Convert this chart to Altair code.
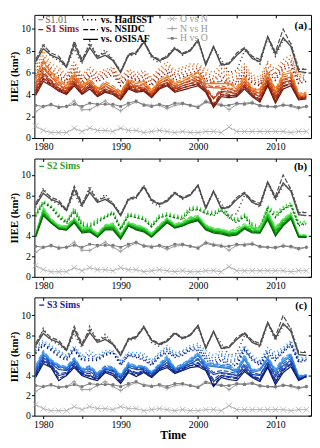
import altair as alt
import pandas as pd

FONT = "Liberation Serif"
years = list(range(1979, 2015))

# S1.01 reference run vs the three observation products
s101_osisaf = [7.0,8.2,7.6,7.3,6.5,8.6,7.0,8.3,7.3,7.6,7.1,6.0,7.6,7.8,8.8,7.5,7.1,7.4,8.2,7.7,8.0,9.0,6.7,8.4,6.7,6.8,7.6,8.2,7.3,7.0,9.3,7.7,9.2,8.4,6.1,6.0]
s101_nsidc  = [7.2,8.5,7.8,7.5,6.6,8.9,7.2,8.6,7.5,7.8,7.2,6.1,7.7,7.9,8.9,7.6,7.2,7.5,8.3,7.8,8.1,9.0,6.8,8.4,6.8,6.9,7.8,8.3,7.5,7.2,9.3,7.9,10.0,8.6,6.3,6.3]
s101_hadisst = [6.8,8.7,7.5,7.1,6.5,8.2,6.8,8.9,7.4,8.1,7.2,6.2,7.5,7.7,9.0,7.3,6.9,7.6,8.3,7.6,8.1,8.8,6.8,8.3,7.2,6.0,6.2,8.0,7.5,6.8,9.2,7.5,9.0,8.7,6.3,6.4]

# observation-vs-observation IIEE
obs_o_vs_n = [1.1,0.7,0.5,0.5,0.5,0.9,0.6,0.9,0.7,0.7,0.6,0.9,0.7,0.7,0.5,0.6,0.7,0.6,0.5,0.6,0.5,0.5,0.6,0.6,0.5,1.0,0.6,0.6,0.6,0.6,0.6,0.6,0.6,0.5,0.6,0.6]
obs_n_vs_h = [2.4,2.9,3.0,2.9,2.9,3.4,2.6,2.6,3.0,3.4,2.9,2.5,3.0,3.3,3.1,3.0,3.0,2.7,3.0,3.1,3.0,2.9,3.4,3.2,3.1,2.6,3.1,3.2,3.3,2.9,2.9,2.8,3.1,2.9,2.7,2.9]
obs_h_vs_o = [3.0,2.9,3.1,2.8,2.9,3.1,2.9,3.2,3.1,3.1,3.1,2.9,3.2,3.4,3.0,2.9,3.1,2.9,3.2,3.2,3.0,2.8,3.3,3.1,3.0,3.0,3.2,3.1,3.2,3.0,2.9,2.9,3.0,3.0,2.8,2.9]

# S1 simulations
s1_osisaf = [
 [5.3,7.0,6.0,5.2,4.8,5.8,4.8,5.3,4.5,5.0,4.6,4.2,5.3,5.0,5.2,4.3,5.2,5.6,5.0,5.2,5.6,6.0,5.0,5.0,5.0,5.0,4.5,5.5,4.5,4.4,6.0,4.3,5.8,6.0,4.0,4.1],
 [4.8,6.4,5.6,4.9,4.5,5.5,4.6,5.1,4.3,4.8,4.4,4.0,5.1,4.7,4.9,4.1,5.0,5.4,4.7,5.0,5.3,5.6,4.7,4.6,4.6,4.5,4.3,5.2,4.3,4.1,5.6,4.0,5.4,5.6,3.8,3.9],
 [4.4,5.9,5.2,4.6,4.3,5.2,4.3,4.9,4.1,4.5,4.2,3.8,4.9,4.5,4.6,3.9,4.8,5.1,4.5,4.8,5.0,5.3,4.5,3.6,4.3,4.2,4.1,4.9,4.1,3.8,5.3,3.7,5.1,5.3,3.7,3.8],
 [4.1,5.5,5.0,4.4,4.1,5.0,4.1,4.7,3.9,4.3,4.1,3.6,4.7,4.3,4.4,3.8,4.6,4.9,4.3,4.6,4.8,5.0,4.3,3.0,4.0,3.9,3.9,4.7,3.9,3.5,5.0,3.4,4.8,5.0,3.6,3.7],
 [3.9,5.2,4.8,4.3,4.0,4.8,4.0,4.5,3.8,4.2,4.0,3.5,4.5,4.2,4.3,3.7,4.5,4.8,4.2,4.4,4.6,4.8,4.2,2.8,3.8,3.7,3.8,4.5,3.8,3.3,4.8,3.2,4.5,4.8,3.5,3.6],
]
s1_nsidc = [
 [5.5,7.2,6.1,5.4,4.9,6.0,4.9,5.5,4.6,5.2,4.8,4.3,5.4,5.1,5.3,4.4,5.4,5.8,5.1,5.4,5.8,6.1,5.2,5.1,5.2,5.1,4.7,5.7,4.6,4.5,6.1,4.5,6.0,6.2,4.1,4.2],
 [5.0,6.6,5.7,5.1,4.6,5.7,4.7,5.3,4.4,5.0,4.6,4.1,5.2,4.8,5.0,4.2,5.2,5.6,4.8,5.2,5.5,5.7,4.9,4.7,4.8,4.6,4.5,5.4,4.4,4.2,5.7,4.2,5.6,5.8,3.9,4.0],
 [4.6,6.1,5.3,4.8,4.4,5.4,4.4,5.1,4.2,4.7,4.4,3.9,5.0,4.6,4.7,4.0,5.0,5.3,4.6,5.0,5.2,5.4,4.7,3.7,4.5,4.3,4.3,5.1,4.2,3.9,5.4,3.9,5.3,5.5,3.8,3.9],
 [4.3,5.7,5.1,4.6,4.2,5.2,4.2,4.9,4.0,4.5,4.3,3.7,4.8,4.4,4.5,3.9,4.8,5.1,4.4,4.8,5.0,5.1,4.5,3.1,4.2,4.0,4.1,4.9,4.0,3.6,5.1,3.6,5.0,5.2,3.7,3.8],
 [4.1,5.4,4.9,4.5,4.1,5.0,4.1,4.7,3.9,4.4,4.2,3.6,4.6,4.3,4.4,3.8,4.7,5.0,4.3,4.6,4.8,4.9,4.4,2.9,4.0,3.8,4.0,4.7,3.9,3.4,4.9,3.4,4.7,5.0,3.6,3.7],
]
s1_hadisst = [
 [6.5,8.0,6.8,6.5,5.8,7.0,5.8,6.5,6.0,6.3,6.5,5.6,6.3,6.0,6.2,5.6,6.4,7.0,6.2,6.5,6.8,6.8,6.3,6.0,6.8,5.8,6.0,6.8,5.8,5.6,7.0,6.3,7.2,7.6,5.8,6.0],
 [6.2,7.6,6.5,6.2,5.6,6.8,5.6,6.3,5.8,6.1,6.4,5.4,6.1,5.8,6.0,5.4,6.2,6.7,6.0,6.3,6.6,6.6,6.0,5.7,6.4,5.5,5.7,6.5,5.6,5.3,6.8,6.0,6.9,7.3,5.6,5.8],
 [5.9,7.2,6.3,5.9,5.4,6.5,5.4,6.0,5.6,5.9,6.2,5.2,5.9,5.6,5.8,5.2,6.0,6.4,5.8,6.0,6.3,6.4,5.8,5.4,6.0,5.2,5.4,6.3,5.4,5.1,6.5,5.8,6.7,7.0,5.4,5.6],
 [5.7,6.9,6.0,5.7,5.2,6.3,5.2,5.8,5.4,5.7,6.0,5.0,5.7,5.4,5.6,5.0,5.8,6.2,5.6,5.8,6.0,6.2,5.5,5.2,5.7,5.0,5.2,6.0,5.2,4.9,6.2,5.5,6.5,6.8,5.2,5.4],
 [5.5,6.5,5.8,5.5,5.0,6.0,5.0,5.6,5.2,5.5,5.8,4.8,5.6,5.3,5.3,4.8,5.5,6.0,5.3,5.6,5.8,6.0,5.3,5.0,5.3,4.8,5.0,5.8,5.0,4.8,6.0,5.3,6.3,6.5,5.0,5.2],
]

# S2 simulations
s2_osisaf = [
 [4.1,6.7,5.6,5.0,4.9,5.7,4.8,4.8,4.2,5.0,5.2,4.1,5.3,5.0,4.8,4.2,5.0,5.7,5.1,5.3,5.8,5.9,5.0,4.7,4.6,4.4,4.6,5.0,4.9,4.6,6.3,4.8,5.6,6.2,4.1,4.0],
 [4.0,6.5,5.5,4.9,4.8,5.6,4.6,4.7,4.1,4.9,5.0,4.0,5.2,4.9,4.7,4.1,4.9,5.6,5.0,5.2,5.6,5.8,4.9,4.6,4.5,4.3,4.4,4.9,4.7,4.5,6.1,4.6,5.5,6.0,4.0,4.0],
 [4.0,6.3,5.4,4.8,4.7,5.5,4.5,4.6,4.0,4.8,4.9,3.9,5.1,4.8,4.6,4.0,4.8,5.5,4.9,5.1,5.5,5.7,4.8,4.5,4.4,4.2,4.3,4.8,4.5,4.4,5.9,4.4,5.3,5.9,4.0,3.9],
 [3.9,6.1,5.3,4.7,4.6,5.4,4.4,4.5,3.9,4.7,4.7,3.8,5.0,4.7,4.5,3.9,4.7,5.4,4.8,5.0,5.4,5.6,4.7,4.4,4.3,4.1,4.2,4.8,4.4,4.3,5.7,4.2,5.1,5.8,3.9,3.9],
 [3.9,6.0,5.3,4.7,4.6,5.3,4.3,4.4,3.9,4.6,4.6,3.7,5.0,4.6,4.4,3.9,4.6,5.3,4.8,5.0,5.3,5.5,4.6,4.3,4.2,4.0,4.1,4.7,4.3,4.3,5.6,4.0,5.0,5.7,3.9,3.9],
]
s2_nsidc = [
 [4.2,6.8,5.7,5.1,5.0,5.8,4.9,4.9,4.3,5.1,5.3,4.2,5.4,5.1,4.9,4.3,5.1,5.8,5.2,5.4,5.9,6.0,5.1,4.8,4.7,4.5,4.8,5.2,5.0,4.7,6.4,4.9,5.7,6.3,4.2,4.1],
 [4.1,6.6,5.6,5.0,4.9,5.7,4.7,4.8,4.2,5.0,5.1,4.1,5.3,5.0,4.8,4.2,5.0,5.7,5.1,5.3,5.7,5.9,5.0,4.7,4.6,4.4,4.6,5.0,4.8,4.6,6.2,4.7,5.6,6.1,4.1,4.0],
 [4.1,6.4,5.5,4.9,4.8,5.6,4.6,4.7,4.1,4.9,5.0,4.0,5.2,4.9,4.7,4.1,4.9,5.6,5.0,5.2,5.6,5.8,4.9,4.6,4.5,4.3,4.4,4.9,4.6,4.5,6.0,4.5,5.4,6.0,4.0,4.0],
 [4.0,6.2,5.4,4.8,4.7,5.5,4.5,4.6,4.0,4.8,4.8,3.9,5.1,4.8,4.6,4.0,4.8,5.5,4.9,5.1,5.5,5.7,4.8,4.5,4.4,4.2,4.3,4.9,4.5,4.4,5.8,4.3,5.2,5.9,4.0,3.9],
 [4.0,6.1,5.4,4.8,4.7,5.4,4.4,4.5,4.0,4.7,4.7,3.8,5.1,4.7,4.5,4.0,4.7,5.4,4.9,5.1,5.4,5.6,4.7,4.4,4.3,4.1,4.2,4.8,4.4,4.4,5.7,4.1,5.1,5.8,4.0,3.9],
]
s2_hadisst = [
 [6.3,7.5,7.0,6.2,5.5,6.8,5.4,5.2,5.7,6.0,6.5,4.9,6.3,6.1,5.9,5.2,6.1,6.3,6.1,6.0,6.9,6.9,6.5,6.4,6.8,6.1,5.7,6.2,5.3,5.0,7.0,6.3,6.9,7.3,5.4,5.5],
 [6.2,7.4,6.9,6.1,5.4,6.7,5.3,5.1,5.6,5.9,6.4,4.8,6.2,6.0,5.8,5.1,6.0,6.2,6.0,5.9,6.8,6.8,6.4,6.3,6.7,6.0,5.6,6.1,5.2,4.9,6.9,6.2,6.8,7.2,5.3,5.4],
 [6.1,7.3,6.9,6.0,5.3,6.6,5.2,5.0,5.5,5.9,6.3,4.7,6.1,5.9,5.7,5.0,5.9,6.1,5.9,5.8,6.7,6.7,6.3,6.2,6.6,5.9,5.5,6.0,5.1,4.8,6.8,6.0,6.7,7.1,5.2,5.3],
 [6.0,7.3,6.8,5.9,5.3,6.5,5.1,4.9,5.4,5.8,6.3,4.7,6.0,5.8,5.6,4.9,5.8,6.0,5.8,5.7,6.6,6.6,6.2,6.1,6.5,5.8,5.4,5.9,5.0,4.6,6.7,5.9,6.6,7.0,5.1,5.2],
 [5.9,7.2,6.8,5.8,5.2,6.4,5.0,4.8,5.3,5.8,6.2,4.6,6.0,5.8,5.6,4.9,5.8,6.0,5.8,5.6,6.5,6.6,6.2,6.0,6.5,5.8,5.3,5.9,4.8,4.5,6.6,5.8,6.6,7.0,5.0,5.2],
]

# S3 simulations
s3_osisaf = [
 [4.8,6.3,5.5,5.0,4.8,5.6,4.6,4.8,4.2,4.8,4.7,4.0,5.2,4.9,4.9,4.3,5.0,5.8,4.7,5.0,5.5,6.2,5.1,5.0,4.9,4.8,4.4,5.9,4.4,4.6,5.8,4.5,5.6,6.0,3.9,4.0],
 [4.6,6.1,5.4,4.9,4.7,5.5,4.5,4.7,4.1,4.7,4.6,3.9,5.0,4.8,4.8,4.2,4.9,5.6,4.6,4.9,5.4,6.0,5.0,4.9,4.8,4.7,4.3,5.6,4.3,4.5,5.6,4.3,5.4,5.9,3.8,4.0],
 [4.3,5.8,5.2,4.6,4.5,5.3,4.3,4.4,3.9,4.6,4.5,3.7,4.8,4.6,4.6,4.1,4.8,5.3,4.5,4.8,5.2,5.6,4.8,4.1,4.3,4.2,4.0,5.0,4.1,4.0,5.3,3.9,5.0,5.5,3.7,3.9],
 [4.0,5.5,5.0,4.0,4.2,5.0,4.1,4.0,3.7,4.4,4.2,3.4,4.5,4.2,4.4,3.9,4.6,5.0,4.3,4.6,5.0,5.2,4.6,3.4,4.0,3.9,3.8,4.6,3.9,3.6,5.0,3.4,4.6,5.2,3.6,3.9],
 [3.8,5.2,4.8,3.5,4.0,4.8,4.0,3.7,3.5,4.3,4.0,3.2,4.3,3.9,4.3,3.8,4.5,4.8,4.2,4.5,4.8,4.9,4.5,2.9,3.8,3.6,3.5,4.4,3.8,3.4,4.8,3.1,4.3,4.9,3.5,3.9],
]
s3_nsidc = [
 [5.0,6.5,5.6,5.1,4.9,5.8,4.7,5.0,4.3,5.0,4.9,4.1,5.3,5.0,5.0,4.4,5.2,6.0,4.8,5.2,5.7,6.3,5.3,5.2,5.1,5.0,4.6,6.1,4.6,4.7,5.9,4.7,5.8,6.2,4.0,4.1],
 [4.8,6.3,5.5,5.0,4.8,5.7,4.6,4.9,4.2,4.9,4.8,4.0,5.1,4.9,4.9,4.3,5.1,5.8,4.7,5.1,5.6,6.1,5.2,5.1,5.0,4.9,4.5,5.8,4.5,4.6,5.7,4.5,5.6,6.1,3.9,4.1],
 [4.5,6.0,5.3,4.8,4.6,5.5,4.4,4.6,4.0,4.8,4.7,3.8,4.9,4.7,4.7,4.2,5.0,5.5,4.6,5.0,5.4,5.7,5.0,4.3,4.5,4.4,4.2,5.2,4.3,4.1,5.4,4.1,5.2,5.7,3.8,4.0],
 [4.2,5.7,5.1,4.2,4.3,5.2,4.2,4.2,3.8,4.6,4.4,3.5,4.6,4.3,4.5,4.0,4.8,5.2,4.4,4.8,5.2,5.3,4.8,3.6,4.2,4.1,4.0,4.8,4.0,3.7,5.1,3.6,4.8,5.4,3.7,4.0],
 [4.0,5.4,4.9,3.7,4.1,5.0,4.1,3.9,3.6,4.5,4.2,3.3,4.4,4.0,4.4,3.9,4.7,5.0,4.3,4.7,5.0,5.0,4.7,3.0,4.0,3.8,3.7,4.6,3.9,3.5,4.9,3.3,4.5,5.1,3.6,4.0],
]
s3_hadisst = [
 [7.0,7.5,7.0,6.5,6.0,7.0,6.0,6.5,6.0,6.5,6.5,5.5,6.3,6.3,6.2,5.5,6.3,7.0,6.3,6.5,7.0,7.2,6.5,6.0,6.5,5.8,6.0,7.0,6.0,5.5,6.8,6.3,6.8,7.5,5.8,5.8],
 [6.8,7.3,6.8,6.4,5.9,6.8,5.8,6.2,5.8,6.3,6.4,5.4,6.2,6.1,6.0,5.4,6.2,6.8,6.1,6.4,6.8,7.0,6.2,5.7,6.2,5.5,5.7,6.8,5.8,5.3,6.6,6.0,6.6,7.3,5.6,5.7],
 [6.5,7.2,6.7,6.2,5.7,6.7,5.7,6.0,5.7,6.2,6.3,5.2,6.1,6.0,5.8,5.2,6.0,6.6,6.0,6.2,6.7,6.8,6.0,5.4,6.0,5.3,5.5,6.7,5.7,5.2,6.4,5.8,6.5,7.2,5.5,5.6],
 [6.3,7.1,6.6,6.0,5.6,6.6,5.6,5.7,5.6,6.1,6.3,5.1,6.0,5.9,5.6,5.1,5.9,6.4,5.9,6.1,6.6,6.6,5.8,5.2,5.7,5.1,5.2,6.6,5.6,5.1,6.2,5.6,6.4,7.1,5.4,5.6],
 [6.2,7.0,6.5,5.9,5.5,6.5,5.5,5.5,5.5,6.0,6.3,5.0,6.0,5.8,5.5,5.0,5.8,6.3,5.8,6.0,6.5,6.5,5.6,5.0,5.5,5.0,5.0,6.5,5.5,5.0,6.0,5.5,6.3,7.0,5.3,5.5],
]

s1_colors = ["#EE7A1E", "#D9561A", "#B83A12", "#952410", "#6E1408"]
s2_colors = ["#4CE84C", "#2CCB2C", "#16A816", "#078607", "#036203"]
s3_colors = ["#4AA0F0", "#2575DA", "#1848B8", "#10309A", "#081870"]

GRAY_S101 = "#4d4d4d"
OBS_COLORS = {"O vs N": "#b0b0b0", "N vs H": "#9a9a9a", "H vs O": "#7a7a7a"}

W = 283
ONE = alt.Data(values=[{"a": 1}])


def table(osi, nsi, had, colors):
    rows = []

    def add(sid, vals, col, style, grp):
        for yr, v in zip(years, vals):
            rows.append({"year": yr, "value": v, "sid": sid, "col": col, "style": style, "grp": grp})

    add("O vs N", obs_o_vs_n, OBS_COLORS["O vs N"], "solid", "obs")
    add("N vs H", obs_n_vs_h, OBS_COLORS["N vs H"], "solid", "obs")
    add("H vs O", obs_h_vs_o, OBS_COLORS["H vs O"], "solid", "obs")
    add("S1.01 had", s101_hadisst, GRAY_S101, "dotted", "ref")
    add("S1.01 nsi", s101_nsidc, GRAY_S101, "dashed", "ref")
    add("S1.01 osi", s101_osisaf, GRAY_S101, "solid", "ref")
    for i, c in enumerate(colors):
        add(f"m{i} had", had[i], c, "dotted", "sim")
        add(f"m{i} nsi", nsi[i], c, "dashed", "sim")
        add(f"m{i} osi", osi[i], c, "solid", "sim")
    return pd.DataFrame(rows)


DASH = {"solid": [1, 0], "dashed": [5, 2], "dotted": [1.2, 2.8]}


def txt(s, x, y, color="black", bold=False, size=10, align="left"):
    return alt.Chart(ONE).mark_text(
        text=s, color=color, fontWeight="bold" if bold else "normal",
        fontSize=size, font=FONT, align=align, baseline="middle"
    ).encode(x=alt.value(x), y=alt.value(y))


def seg(x1, x2, y, color, style="solid", width=1.2):
    return alt.Chart(ONE).mark_rule(color=color, strokeWidth=width, strokeDash=DASH[style]).encode(
        x=alt.value(x1), x2=alt.value(x2), y=alt.value(y))


def pt(x, y, shape, color, size, filled=False):
    return alt.Chart(ONE).mark_point(shape=shape, color=color, size=size, filled=filled,
                                     strokeWidth=0.9, opacity=1).encode(x=alt.value(x), y=alt.value(y))


XSHAPE = "M-1,-1L1,1M-1,1L1,-1"
PLUS = "M-1,0L1,0M0,-1L0,1"


def panel(df, height, ymax, label, extra, title=None):
    xscale = alt.Scale(domain=[1978.85, 2014.6], nice=False, zero=False)
    yscale = alt.Scale(domain=[0, ymax], nice=False, zero=True)
    xaxis = alt.Axis(orient="bottom", values=list(range(1980, 2015, 5)),
                     labelExpr="datum.value % 10 == 0 ? format(datum.value, 'd') : ''",
                     tickSize=3, labelPadding=1, domain=False, grid=False,
                     titleFontWeight="bold", titleFontSize=12, titlePadding=0)
    yaxis = alt.Axis(orient="left", values=[0, 2, 4, 6, 8, 10], tickSize=3, labelPadding=1,
                     domain=False, grid=False, title="IIEE (km²)", titleFontWeight="bold",
                     titleFontSize=11, titlePadding=1)
    base = alt.Chart(df)
    x = alt.X("year:Q", scale=xscale, axis=xaxis, title=title)
    y = alt.Y("value:Q", scale=yscale, axis=yaxis)

    layers = []
    # obs comparisons
    layers.append(base.transform_filter("datum.grp == 'obs'").mark_line(strokeWidth=1).encode(
        x=x, y=y, detail="sid:N", color=alt.Color("col:N", scale=None)))
    layers.append(base.transform_filter("datum.sid == 'O vs N'").mark_point(
        shape=XSHAPE, size=34, filled=False, strokeWidth=0.8, color=OBS_COLORS["O vs N"], opacity=1).encode(x=x, y=y))
    layers.append(base.transform_filter("datum.sid == 'N vs H'").mark_point(
        shape=PLUS, size=16, filled=False, strokeWidth=0.8, color=OBS_COLORS["N vs H"], opacity=1).encode(x=x, y=y))
    layers.append(base.transform_filter("datum.sid == 'H vs O'").mark_point(
        shape="square", size=8, filled=True, color=OBS_COLORS["H vs O"], opacity=1).encode(x=x, y=y))
    # simulations
    for style, sw in [("dotted", 1.5), ("dashed", 1.1), ("solid", 1.2)]:
        layers.append(base.transform_filter(f"datum.grp == 'sim' && datum.style == '{style}'").mark_line(
            strokeWidth=sw, strokeDash=DASH[style]).encode(
            x=x, y=y, detail="sid:N", color=alt.Color("col:N", scale=None)))
    # S1.01 reference
    for style, sw in [("dotted", 1.6), ("dashed", 1.2), ("solid", 1.4)]:
        layers.append(base.transform_filter(f"datum.grp == 'ref' && datum.style == '{style}'").mark_line(
            strokeWidth=sw, strokeDash=DASH[style], color=GRAY_S101).encode(x=x, y=y))

    # mirrored axes (top/right), ticks pointing inward
    top_axis = alt.Axis(orient="top", values=list(range(1980, 2015, 5)), labels=False, tickSize=3,
                        offset=-3, domain=False, grid=False, title=None)
    right_axis = alt.Axis(orient="right", values=[0, 2, 4, 6, 8, 10], labels=False, tickSize=3,
                          offset=-3, domain=False, grid=False, title=None)
    mirror = base.transform_filter("datum.sid == 'O vs N'").mark_point(opacity=0).encode(
        x=alt.X("year:Q", scale=xscale, axis=top_axis),
        y=alt.Y("value:Q", scale=yscale, axis=right_axis))

    labels = [txt(label, W - 4, 11 if label == "(a)" else 9, bold=True, size=11, align="right")]
    main = alt.layer(*layers, *extra, *labels)
    return alt.layer(main, mirror).resolve_axis(x="independent", y="independent").properties(
        width=W, height=height)


legend_a = [
    seg(4, 9, 5, "#777777"), txt("S1.01", 11, 5, color="#666666", size=10),
    seg(4, 9, 15, "#8B1A1A"), txt("S1 Sims", 12, 15, color="#8B1A1A", bold=True, size=10),
    seg(50, 65, 5, "black", "dotted", 1.6), txt("vs. HadISST", 68, 5, bold=True, size=10),
    seg(50, 65, 15, "black", "dashed", 1.2), txt("vs. NSIDC", 68, 15, bold=True, size=10),
    seg(50, 65, 25, "black", "solid", 1.2), txt("vs. OSISAF", 68, 25, bold=True, size=10),
    seg(136, 146, 4, OBS_COLORS["O vs N"], "solid", 1), pt(141, 4, XSHAPE, OBS_COLORS["O vs N"], 25),
    txt("O vs N", 149, 4, color="#999999", size=10),
    seg(136, 146, 14, OBS_COLORS["N vs H"], "solid", 1), pt(141, 14, PLUS, OBS_COLORS["N vs H"], 25),
    txt("N vs H", 149, 14, color="#999999", size=10),
    seg(136, 146, 24, OBS_COLORS["H vs O"], "solid", 1), pt(141, 24, "square", OBS_COLORS["H vs O"], 8, True),
    txt("H vs O", 149, 24, color="#999999", size=10),
]
legend_b = [seg(5, 10, 8, "#2E9E2E"), txt("S2 Sims", 13, 8, color="#2E9E2E", bold=True, size=10)]
legend_c = [seg(5, 10, 8, "#1A1A99"), txt("S3 Sims", 13, 8, color="#1A1A99", bold=True, size=10)]

pa = panel(table(s1_osisaf, s1_nsidc, s1_hadisst, s1_colors), 126, 11.3, "(a)", legend_a)
pb = panel(table(s2_osisaf, s2_nsidc, s2_hadisst, s2_colors), 121, 11.6, "(b)", legend_b)
pc = panel(table(s3_osisaf, s3_nsidc, s3_hadisst, s3_colors), 121, 11.8, "(c)", legend_c, title="Time")

chart = alt.vconcat(pa, pb, pc, spacing=5).properties(
    padding={"left": 0, "top": 0, "right": 0, "bottom": 0}
).configure_view(stroke="black", strokeWidth=1).configure_axis(
    labelFont=FONT, titleFont=FONT, labelFontSize=10, labelColor="black", titleColor="black",
    tickColor="black", tickWidth=1
)

chart.save("out.html", embed_options={"renderer": "svg", "actions": False})
